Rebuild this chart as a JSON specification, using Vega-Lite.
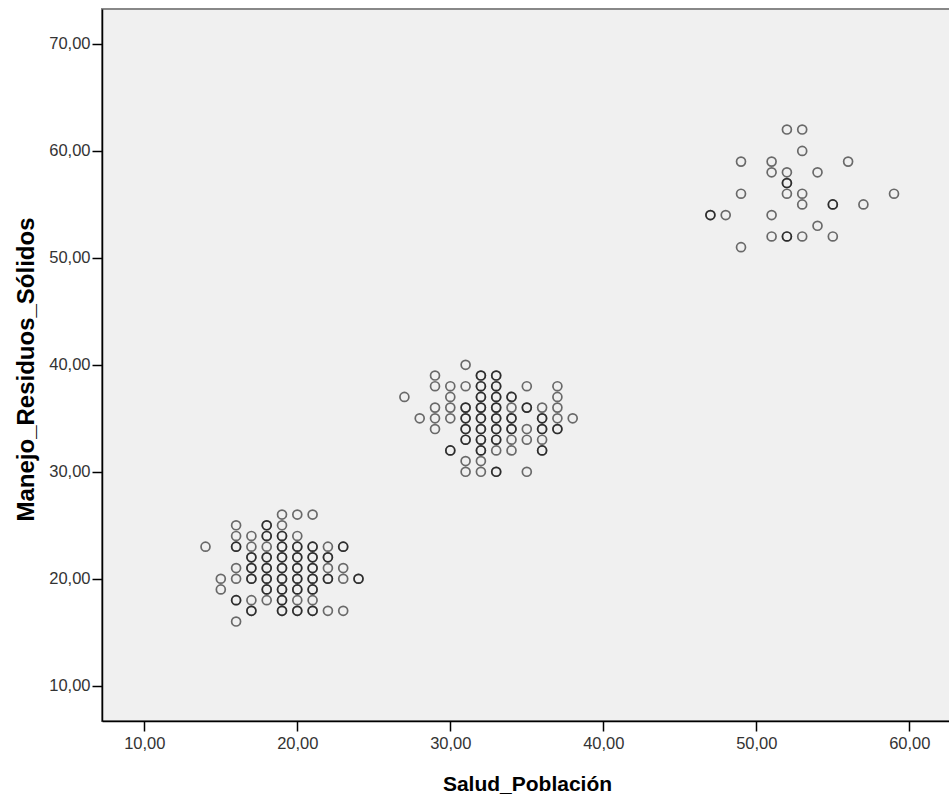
{
  "$schema": "https://vega.github.io/schema/vega-lite/v6.json",
  "autosize": {"type": "none"},
  "width": 850,
  "height": 712,
  "padding": {"left": 102, "top": 9, "right": 0, "bottom": 77},
  "background": "#ffffff",
  "config": {
    "view": {"fill": "#f0f0f0", "stroke": "#888888", "strokeWidth": 2},
    "axis": {
      "grid": false,
      "domainColor": "#000000",
      "domainWidth": 1.5,
      "tickColor": "#000000",
      "tickWidth": 1.5,
      "tickSize": 10,
      "labelFont": "Liberation Sans",
      "labelFontSize": 16.5,
      "labelColor": "#333333",
      "titleFont": "Liberation Sans",
      "titleFontWeight": "bold",
      "titleColor": "#000000"
    }
  },
  "data": {
    "values": [
      {"salud": 14, "manejo": 23},
      {"salud": 15, "manejo": 20}, {"salud": 15, "manejo": 19},
      {"salud": 16, "manejo": 25}, {"salud": 16, "manejo": 24}, {"salud": 16, "manejo": 23}, {"salud": 16, "manejo": 23}, {"salud": 16, "manejo": 21}, {"salud": 16, "manejo": 20}, {"salud": 16, "manejo": 18}, {"salud": 16, "manejo": 18}, {"salud": 16, "manejo": 16},
      {"salud": 17, "manejo": 24}, {"salud": 17, "manejo": 23}, {"salud": 17, "manejo": 22}, {"salud": 17, "manejo": 22}, {"salud": 17, "manejo": 21}, {"salud": 17, "manejo": 21}, {"salud": 17, "manejo": 20}, {"salud": 17, "manejo": 20}, {"salud": 17, "manejo": 18}, {"salud": 17, "manejo": 17}, {"salud": 17, "manejo": 17},
      {"salud": 18, "manejo": 25}, {"salud": 18, "manejo": 25}, {"salud": 18, "manejo": 24}, {"salud": 18, "manejo": 24}, {"salud": 18, "manejo": 23}, {"salud": 18, "manejo": 22}, {"salud": 18, "manejo": 22}, {"salud": 18, "manejo": 21}, {"salud": 18, "manejo": 21}, {"salud": 18, "manejo": 20}, {"salud": 18, "manejo": 20}, {"salud": 18, "manejo": 19}, {"salud": 18, "manejo": 19}, {"salud": 18, "manejo": 18},
      {"salud": 19, "manejo": 26}, {"salud": 19, "manejo": 25}, {"salud": 19, "manejo": 24}, {"salud": 19, "manejo": 24}, {"salud": 19, "manejo": 23}, {"salud": 19, "manejo": 23}, {"salud": 19, "manejo": 22}, {"salud": 19, "manejo": 22}, {"salud": 19, "manejo": 21}, {"salud": 19, "manejo": 21}, {"salud": 19, "manejo": 20}, {"salud": 19, "manejo": 20}, {"salud": 19, "manejo": 19}, {"salud": 19, "manejo": 19}, {"salud": 19, "manejo": 18}, {"salud": 19, "manejo": 18}, {"salud": 19, "manejo": 17}, {"salud": 19, "manejo": 17},
      {"salud": 20, "manejo": 26}, {"salud": 20, "manejo": 24}, {"salud": 20, "manejo": 23}, {"salud": 20, "manejo": 23}, {"salud": 20, "manejo": 22}, {"salud": 20, "manejo": 22}, {"salud": 20, "manejo": 21}, {"salud": 20, "manejo": 21}, {"salud": 20, "manejo": 20}, {"salud": 20, "manejo": 20}, {"salud": 20, "manejo": 19}, {"salud": 20, "manejo": 19}, {"salud": 20, "manejo": 18}, {"salud": 20, "manejo": 17}, {"salud": 20, "manejo": 17},
      {"salud": 21, "manejo": 26}, {"salud": 21, "manejo": 23}, {"salud": 21, "manejo": 23}, {"salud": 21, "manejo": 22}, {"salud": 21, "manejo": 22}, {"salud": 21, "manejo": 21}, {"salud": 21, "manejo": 21}, {"salud": 21, "manejo": 20}, {"salud": 21, "manejo": 20}, {"salud": 21, "manejo": 19}, {"salud": 21, "manejo": 19}, {"salud": 21, "manejo": 18}, {"salud": 21, "manejo": 17}, {"salud": 21, "manejo": 17},
      {"salud": 22, "manejo": 23}, {"salud": 22, "manejo": 22}, {"salud": 22, "manejo": 22}, {"salud": 22, "manejo": 21}, {"salud": 22, "manejo": 20}, {"salud": 22, "manejo": 20}, {"salud": 22, "manejo": 17},
      {"salud": 23, "manejo": 23}, {"salud": 23, "manejo": 23}, {"salud": 23, "manejo": 21}, {"salud": 23, "manejo": 20}, {"salud": 23, "manejo": 17},
      {"salud": 24, "manejo": 20}, {"salud": 24, "manejo": 20},
      {"salud": 27, "manejo": 37},
      {"salud": 28, "manejo": 35},
      {"salud": 29, "manejo": 39}, {"salud": 29, "manejo": 38}, {"salud": 29, "manejo": 36}, {"salud": 29, "manejo": 35}, {"salud": 29, "manejo": 34},
      {"salud": 30, "manejo": 38}, {"salud": 30, "manejo": 37}, {"salud": 30, "manejo": 36}, {"salud": 30, "manejo": 35}, {"salud": 30, "manejo": 32}, {"salud": 30, "manejo": 32},
      {"salud": 31, "manejo": 40}, {"salud": 31, "manejo": 38}, {"salud": 31, "manejo": 36}, {"salud": 31, "manejo": 36}, {"salud": 31, "manejo": 35}, {"salud": 31, "manejo": 35}, {"salud": 31, "manejo": 34}, {"salud": 31, "manejo": 34}, {"salud": 31, "manejo": 33}, {"salud": 31, "manejo": 33}, {"salud": 31, "manejo": 31}, {"salud": 31, "manejo": 30},
      {"salud": 32, "manejo": 39}, {"salud": 32, "manejo": 39}, {"salud": 32, "manejo": 38}, {"salud": 32, "manejo": 38}, {"salud": 32, "manejo": 37}, {"salud": 32, "manejo": 37}, {"salud": 32, "manejo": 36}, {"salud": 32, "manejo": 36}, {"salud": 32, "manejo": 35}, {"salud": 32, "manejo": 35}, {"salud": 32, "manejo": 34}, {"salud": 32, "manejo": 34}, {"salud": 32, "manejo": 33}, {"salud": 32, "manejo": 33}, {"salud": 32, "manejo": 32}, {"salud": 32, "manejo": 32}, {"salud": 32, "manejo": 31}, {"salud": 32, "manejo": 30},
      {"salud": 33, "manejo": 39}, {"salud": 33, "manejo": 39}, {"salud": 33, "manejo": 38}, {"salud": 33, "manejo": 38}, {"salud": 33, "manejo": 37}, {"salud": 33, "manejo": 37}, {"salud": 33, "manejo": 36}, {"salud": 33, "manejo": 36}, {"salud": 33, "manejo": 35}, {"salud": 33, "manejo": 35}, {"salud": 33, "manejo": 34}, {"salud": 33, "manejo": 34}, {"salud": 33, "manejo": 33}, {"salud": 33, "manejo": 33}, {"salud": 33, "manejo": 32}, {"salud": 33, "manejo": 30}, {"salud": 33, "manejo": 30},
      {"salud": 34, "manejo": 37}, {"salud": 34, "manejo": 37}, {"salud": 34, "manejo": 36}, {"salud": 34, "manejo": 35}, {"salud": 34, "manejo": 35}, {"salud": 34, "manejo": 34}, {"salud": 34, "manejo": 34}, {"salud": 34, "manejo": 33}, {"salud": 34, "manejo": 32},
      {"salud": 35, "manejo": 38}, {"salud": 35, "manejo": 36}, {"salud": 35, "manejo": 36}, {"salud": 35, "manejo": 34}, {"salud": 35, "manejo": 33}, {"salud": 35, "manejo": 30},
      {"salud": 36, "manejo": 36}, {"salud": 36, "manejo": 35}, {"salud": 36, "manejo": 35}, {"salud": 36, "manejo": 34}, {"salud": 36, "manejo": 34}, {"salud": 36, "manejo": 33}, {"salud": 36, "manejo": 32}, {"salud": 36, "manejo": 32},
      {"salud": 37, "manejo": 38}, {"salud": 37, "manejo": 37}, {"salud": 37, "manejo": 36}, {"salud": 37, "manejo": 35}, {"salud": 37, "manejo": 34}, {"salud": 37, "manejo": 34},
      {"salud": 38, "manejo": 35},
      {"salud": 47, "manejo": 54}, {"salud": 47, "manejo": 54},
      {"salud": 48, "manejo": 54},
      {"salud": 49, "manejo": 59}, {"salud": 49, "manejo": 56}, {"salud": 49, "manejo": 51},
      {"salud": 51, "manejo": 59}, {"salud": 51, "manejo": 58}, {"salud": 51, "manejo": 54}, {"salud": 51, "manejo": 52},
      {"salud": 52, "manejo": 62}, {"salud": 52, "manejo": 58}, {"salud": 52, "manejo": 57}, {"salud": 52, "manejo": 57}, {"salud": 52, "manejo": 56}, {"salud": 52, "manejo": 52}, {"salud": 52, "manejo": 52},
      {"salud": 53, "manejo": 62}, {"salud": 53, "manejo": 60}, {"salud": 53, "manejo": 56}, {"salud": 53, "manejo": 55}, {"salud": 53, "manejo": 52},
      {"salud": 54, "manejo": 58}, {"salud": 54, "manejo": 53},
      {"salud": 55, "manejo": 55}, {"salud": 55, "manejo": 55}, {"salud": 55, "manejo": 52},
      {"salud": 56, "manejo": 59},
      {"salud": 57, "manejo": 55},
      {"salud": 59, "manejo": 56}
    ]
  },
  "mark": {"type": "point", "shape": "circle", "filled": false, "size": 80, "stroke": "#000000", "strokeWidth": 1.7, "strokeOpacity": 0.8},
  "encoding": {
    "x": {
      "field": "salud",
      "type": "quantitative",
      "scale": {"domain": [7.235, 62.79], "nice": false, "zero": false},
      "axis": {
        "title": "Salud_Población",
        "titleFontSize": 21,
        "titleY": 69,
        "titleBaseline": "alphabetic",
        "values": [10, 20, 30, 40, 50, 60],
        "labelPadding": 4,
        "labelExpr": "replace(format(datum.value, '.2f'), '.', ',')"
      }
    },
    "y": {
      "field": "manejo",
      "type": "quantitative",
      "scale": {"domain": [6.70, 73.27], "nice": false, "zero": false},
      "axis": {
        "title": "Manejo_Residuos_Sólidos",
        "titleFontSize": 24,
        "titleX": -69,
        "titleY": 360,
        "titleBaseline": "alphabetic",
        "values": [10, 20, 30, 40, 50, 60, 70],
        "labelPadding": 2,
        "labelExpr": "replace(format(datum.value, '.2f'), '.', ',')"
      }
    }
  }
}
